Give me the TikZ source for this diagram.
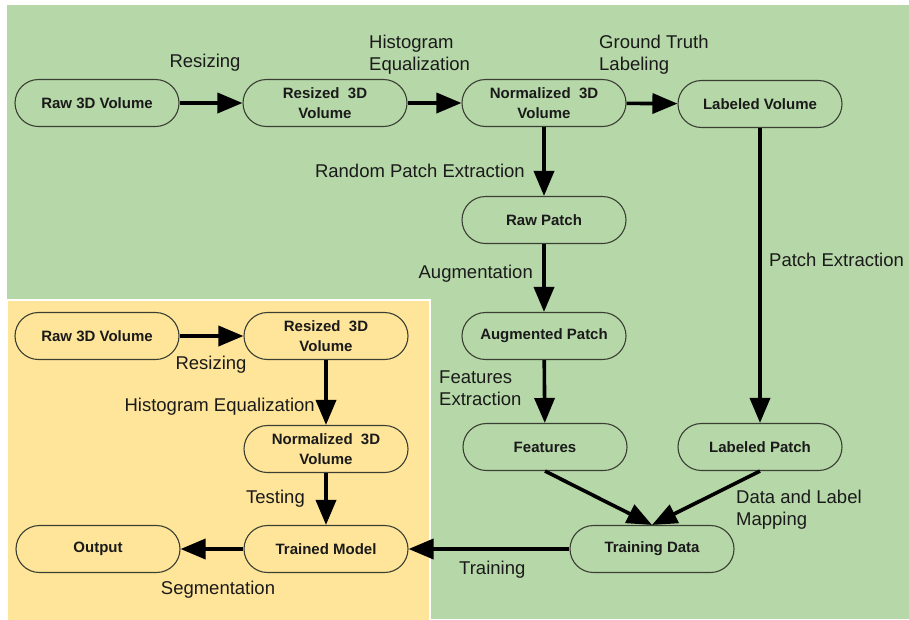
\documentclass[tikz,border=0pt]{standalone}
\usepackage{fontspec}
\setmainfont{Liberation Sans}
\usepackage{xcolor}
\usepackage{tikz}
\usetikzlibrary{arrows.meta}
\definecolor{trainBg}{HTML}{B6D7A8}
\definecolor{testBg}{HTML}{FFE599}
\definecolor{edge}{HTML}{3A3F33}
\definecolor{ink}{HTML}{1A1A1A}
\tikzset{
  stepNode/.style={draw=edge, line width=1.1pt, rounded corners=23.5pt,
    minimum width=164pt, minimum height=47pt, align=center, text=ink,
    font=\bfseries\fontsize{15}{20}\selectfont},
  flowArrow/.style={draw=black, line width=3.6pt,
    -{Triangle[length=25pt,width=20pt]}},
  flowLabel/.style={text=ink, inner sep=0pt, align=left,
    font=\fontsize{18.5}{22}\selectfont}
}

\begin{document}
\begin{tikzpicture}[x=1pt,y=-1pt]
  \useasboundingbox (0,0) rectangle (909,619);
  \fill[white] (0,0) rectangle (909,619);
  \fill[trainBg] (7,5) rectangle (909,619);
  \filldraw[fill=testBg, draw=white, line width=2pt] (7,300) rectangle (430,621);

  % training pipeline
  \node[stepNode] (rawVol) at (97,103) {Raw 3D Volume};
  \node[stepNode] (resizedVol) at (325,103) {Resized\ \ 3D\\Volume};
  \node[stepNode] (normVol) at (544,103) {Normalized\ \ 3D\\Volume};
  \node[stepNode] (labeledVol) at (760,104) {Labeled Volume};
  \node[stepNode] (rawPatch) at (544,220) {Raw Patch};
  \node[stepNode] (augPatch) at (544,336) {Augmented Patch};
  \node[stepNode] (features) at (545,447) {Features};
  \node[stepNode] (labeledPatch) at (760,447) {Labeled Patch};
  \node[stepNode] (trainData) at (652,549) {Training Data};

  % testing pipeline
  \node[stepNode] (testRaw) at (97,336) {Raw 3D Volume};
  \node[stepNode] (testResized) at (326,336) {Resized\ \ 3D\\Volume};
  \node[stepNode] (testNorm) at (326,449) {Normalized\ \ 3D\\Volume};
  \node[stepNode] (trainedModel) at (326,549) {Trained Model};
  \node[stepNode] (output) at (98,549) {Output};

  \draw[flowArrow] (rawVol) -- (resizedVol);
  \draw[flowArrow] (resizedVol) -- (normVol);
  \draw[flowArrow] (normVol) -- (labeledVol);
  \draw[flowArrow] (normVol) -- (rawPatch);
  \draw[flowArrow] (rawPatch) -- (augPatch);
  \draw[flowArrow] (augPatch) -- (features);
  \draw[flowArrow] (labeledVol) -- (labeledPatch);
  \draw[flowArrow] (features.south) -- (trainData.north);
  \draw[flowArrow] (labeledPatch.south) -- (trainData.north);
  \draw[flowArrow] (trainData) -- (trainedModel);
  \draw[flowArrow] (testRaw) -- (testResized);
  \draw[flowArrow] (testResized) -- (testNorm);
  \draw[flowArrow] (testNorm) -- (trainedModel);
  \draw[flowArrow] (trainedModel) -- (output);

  \node[flowLabel] (lResize) at (205,63) {Resizing};
  \node[flowLabel, anchor=west] (lHist) at (369,55) {Histogram\\Equalization};
  \node[flowLabel, anchor=west] (lTruth) at (599,55) {Ground Truth\\Labeling};
  \node[flowLabel, anchor=east] (lRandom) at (525,171) {Random Patch Extraction};
  \node[flowLabel, anchor=east] (lAug) at (533,274) {Augmentation};
  \node[flowLabel, anchor=west] (lFeat) at (439,388) {Features\\Extraction};
  \node[flowLabel, anchor=west] (lPatch) at (769,260) {Patch Extraction};
  \node[flowLabel, anchor=west] (lMap) at (736,510) {Data and Label\\Mapping};
  \node[flowLabel, anchor=west] (lTrain) at (459,570) {Training};
  \node[flowLabel] (lTestResize) at (211,365) {Resizing};
  \node[flowLabel, anchor=east] (lTestHist) at (315,407) {Histogram Equalization};
  \node[flowLabel, anchor=east] (lTest) at (305,499) {Testing};
  \node[flowLabel] (lSeg) at (218,590) {Segmentation};
\end{tikzpicture}
\end{document}
